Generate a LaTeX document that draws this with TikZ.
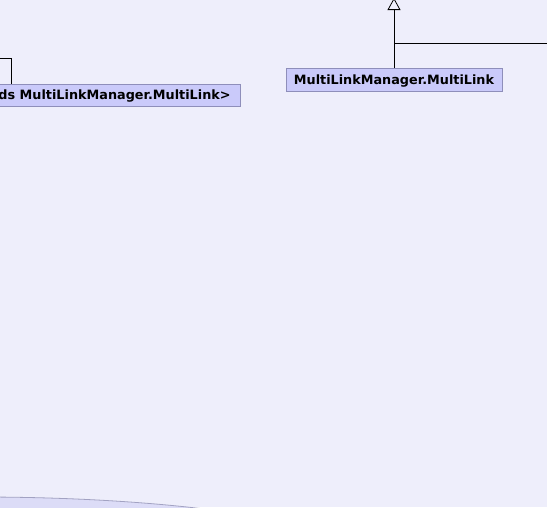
\documentclass[tikz,border=0pt]{standalone}
\usepackage{fontspec}
\setmainfont{DejaVu Sans}
\usetikzlibrary{arrows.meta}
\definecolor{bgcol}{HTML}{EEEEFB}
\definecolor{boxfill}{HTML}{CACAFA}
\definecolor{boxline}{HTML}{8E8EBA}
\definecolor{ovalfill}{HTML}{DCDCF7}
\definecolor{ovalline}{HTML}{A2A2C2}
\tikzset{classbox/.style={draw=boxline, fill=boxfill, line width=0.8pt, minimum height=22pt, inner xsep=7pt, text height=9.3pt, text depth=0pt, font=\fontsize{12.8}{15}\selectfont\bfseries}}
\begin{document}
\begin{tikzpicture}[x=1pt, y=-1pt]
\useasboundingbox (0,0) rectangle (547,507);
\clip (0,0) rectangle (547,507);
\fill[bgcol] (0,0) rectangle (547,507);

\draw[ovalline, fill=ovalfill, line width=0.8pt] (-20,559) ellipse [x radius=380pt, y radius=62pt];

\node[classbox, minimum width=216pt, minimum height=23pt] (multilink) at (394,79.5) {MultiLinkManager.MultiLink};
\node[classbox, anchor=east, inner xsep=10pt] (linkset) at (241,95) {ds MultiLinkManager.MultiLink>};

\coordinate (parent) at (394,-2);
\coordinate (rightend) at (550,43);
\coordinate (leftcorner) at (11,58);
\coordinate (leftend) at (-5,58);

\draw[-{Triangle[open, width=13pt, length=12pt]}, line width=0.8pt] (multilink) -- (parent);
\draw[line width=0.8pt] (multilink.north |- rightend) -- (rightend);
\draw[line width=0.8pt] (linkset.north -| leftcorner) -- (leftcorner) -- (leftend);
\end{tikzpicture}
\end{document}
